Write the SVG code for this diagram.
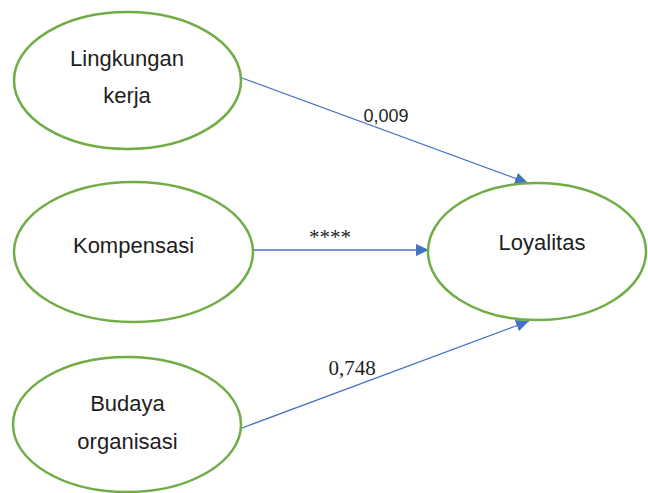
<svg xmlns="http://www.w3.org/2000/svg" width="648" height="493" viewBox="0 0 648 493">
  <style>
    .node ellipse { fill: #ffffff; stroke: #70AD47; stroke-width: 2.5; }
    .node text { font-family: "Liberation Sans", Arial, sans-serif; font-size: 22px; fill: #1e1e1e; text-anchor: middle; }
    .edge { stroke: #4472C4; stroke-width: 1.3; fill: none; marker-end: url(#arrow); }
    .lbl { fill: #1e1e1e; text-anchor: middle; }
  </style>
  <defs>
    <marker id="arrow" markerUnits="userSpaceOnUse" markerWidth="14" markerHeight="12" refX="13" refY="6" orient="auto">
      <path d="M0,0 L13,6 L0,12 Z" fill="#4472C4"/>
    </marker>
  </defs>
  <rect width="648" height="493" fill="#ffffff"/>

  <g id="connectors">
    <line class="edge" x1="242" y1="78" x2="528" y2="183"/>
    <line class="edge" x1="254" y1="250" x2="429" y2="250"/>
    <line class="edge" x1="242" y1="428" x2="529" y2="321"/>
    <text class="lbl" x="386" y="122" font-family="Liberation Sans, Arial, sans-serif" font-size="18">0,009</text>
    <text class="lbl" x="330" y="244" font-family="Liberation Serif, Times New Roman, serif" font-size="21">****</text>
    <text class="lbl" x="352" y="375" font-family="Liberation Serif, Times New Roman, serif" font-size="21">0,748</text>
  </g>

  <g id="lingkungan-kerja" class="node">
    <ellipse cx="127.5" cy="80.5" rx="113.5" ry="68.5"/>
    <text x="127" y="66">Lingkungan</text>
    <text x="127" y="103">kerja</text>
  </g>

  <g id="kompensasi" class="node">
    <ellipse cx="133.5" cy="252" rx="119.5" ry="70"/>
    <text x="133.5" y="253">Kompensasi</text>
  </g>

  <g id="budaya-organisasi" class="node">
    <ellipse cx="127" cy="424.5" rx="114" ry="67.5"/>
    <text x="127.5" y="411">Budaya</text>
    <text x="127.5" y="449">organisasi</text>
  </g>

  <g id="loyalitas" class="node">
    <ellipse cx="537" cy="251.5" rx="109" ry="68.5"/>
    <text x="542" y="250">Loyalitas</text>
  </g>
</svg>
